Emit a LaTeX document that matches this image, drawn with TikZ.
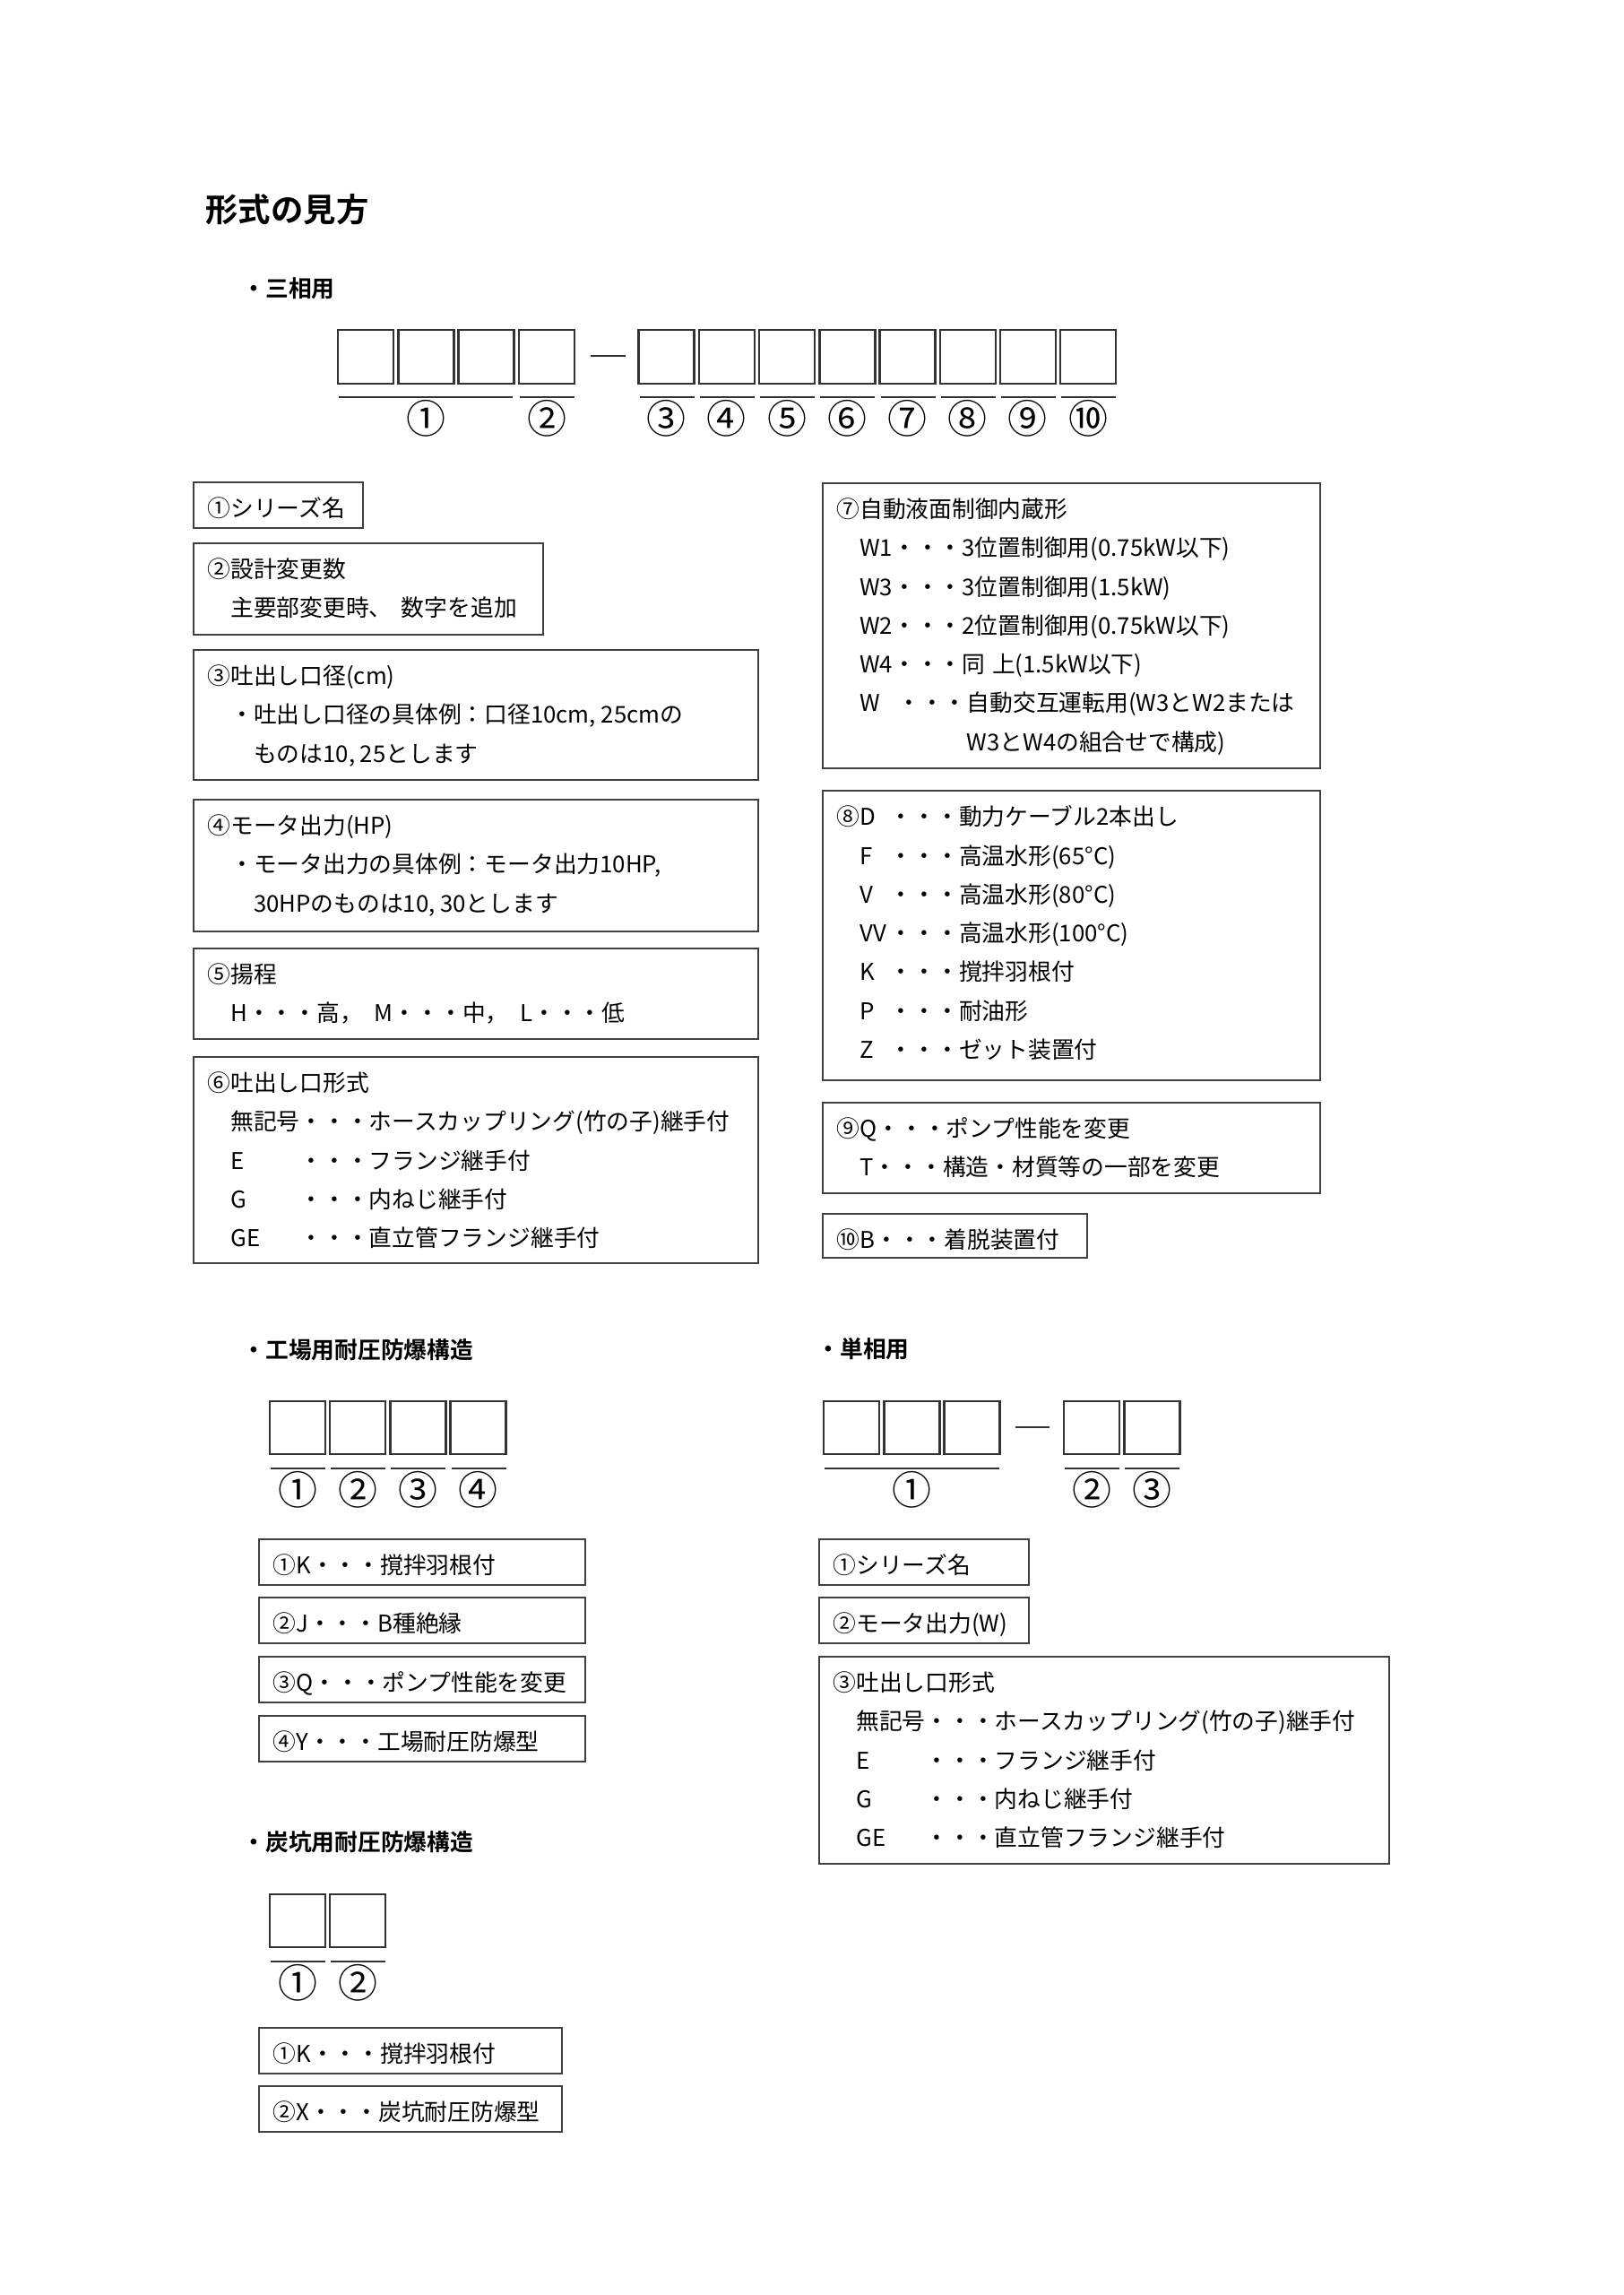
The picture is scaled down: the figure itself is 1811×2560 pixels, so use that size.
\documentclass[tikz,border=0pt]{standalone}
\usepackage{fontspec}
\setmainfont{Noto Sans CJK JP}[BoldFont={Noto Sans CJK JP Bold}]
\begin{document}
\begin{tikzpicture}[x=0.11596mm,y=-0.11596mm,
  frame/.style={draw=black!75,line width=0.6pt},
  cell/.style={draw=black!80,line width=0.8pt},
  txt/.style={anchor=north west,inner sep=0pt,align=left,text=black,font=\fontsize{8.5}{14.29}\selectfont},
  head/.style={anchor=west,inner sep=0pt,font=\fontsize{8.5}{10}\selectfont\bfseries},
  num/.style={inner sep=0pt,text=black,font=\fontsize{14.5}{16}\selectfont}]
  \useasboundingbox (0,0) rectangle (1811,2560);
  \fill[white] (0,0) rectangle (1811,2560);
  % Title
  \node[anchor=west,inner sep=0pt,font=\fontsize{12}{14}\selectfont\bfseries] (title) at (229,234) {形式の見方};
  % Three-phase code
  \node[head] (h3) at (270,322) {・三相用};
  \foreach \x in {377,444.3,511.6,578.9}
    \draw[cell] (\x,368) rectangle ++(62,60);
  \draw[cell] (659,397) -- (698,397);
  \draw[cell] (378,443) -- (572,443);
  \draw[cell] (580,443) -- (641,443);
  \node[num] (p1) at (475,467) {①};
  \node[num] (p2) at (610.5,467) {②};
  \foreach \x/\c [count=\i from 3] in {712.7/③,779.9/④,847.1/⑤,914.3/⑥,981.5/⑦,1048.7/⑧,1115.9/⑨,1183.1/⑩} {
    \draw[cell] (\x,368) rectangle ++(62,60);
    \draw[cell] (\x+1,443) -- ++(61,0);
    \node[num] (p\i) at (\x+31,467) {\c};
  }
  % Left column
  \draw[frame] (216,538) rectangle (405,589);
  \node[txt] (s1) at (231,554) {①シリーズ名};
  \draw[frame] (216,606) rectangle (606,708);
  \node[txt] (s2) at (231,622) {②設計変更数\\\hspace*{1em}主要部変更時、\hspace{0.4em}数字を追加};
  \draw[frame] (216,725) rectangle (846,870);
  \node[txt] (s3) at (231,741) {③吐出し口径(cm)\\\hspace*{1em}・吐出し口径の具体例：口径10cm, 25cmの\\\hspace*{2em}ものは10, 25とします};
  \draw[frame] (216,892) rectangle (846,1039);
  \node[txt] (s4) at (231,908) {④モータ出力(HP)\\\hspace*{1em}・モータ出力の具体例：モータ出力10HP,\\\hspace*{2em}30HPのものは10, 30とします};
  \draw[frame] (216,1058) rectangle (846,1159);
  \node[txt] (s5) at (231,1074) {⑤揚程\\\hspace*{1em}H・・・高，\hspace{0.5em}M・・・中，\hspace{0.5em}L・・・低};
  \draw[frame] (216,1179) rectangle (846,1409);
  \node[txt] (s6) at (231,1195) {⑥吐出し口形式\\
    \hspace*{1em}無記号・・・ホースカップリング(竹の子)継手付\\
    \hspace*{1em}\makebox[3em][l]{E}・・・フランジ継手付\\
    \hspace*{1em}\makebox[3em][l]{G}・・・内ねじ継手付\\
    \hspace*{1em}\makebox[3em][l]{GE}・・・直立管フランジ継手付};
  % Right column
  \draw[frame] (918,539) rectangle (1473,857);
  \node[txt] (s7) at (933,555) {⑦自動液面制御内蔵形\\
    \hspace*{1em}W1・・・3位置制御用(0.75kW以下)\\
    \hspace*{1em}W3・・・3位置制御用(1.5kW)\\
    \hspace*{1em}W2・・・2位置制御用(0.75kW以下)\\
    \hspace*{1em}W4・・・同\hspace{0.3em}上(1.5kW以下)\\
    \hspace*{1em}\rlap{W}\phantom{W1}\hspace{0.2em}・・・自動交互運転用(W3とW2または\\
    \hspace*{1em}\phantom{W1}\hspace{0.2em}\phantom{・・・}W3とW4の組合せで構成)};
  \draw[frame] (918,882) rectangle (1473,1205);
  \node[txt] (s8) at (933,898) {⑧\makebox[1.3em][l]{D}・・・動力ケーブル2本出し\\
    \hspace*{1em}\makebox[1.3em][l]{F}・・・高温水形(65°C)\\
    \hspace*{1em}\makebox[1.3em][l]{V}・・・高温水形(80°C)\\
    \hspace*{1em}\makebox[1.3em][l]{VV}・・・高温水形(100°C)\\
    \hspace*{1em}\makebox[1.3em][l]{K}・・・撹拌羽根付\\
    \hspace*{1em}\makebox[1.3em][l]{P}・・・耐油形\\
    \hspace*{1em}\makebox[1.3em][l]{Z}・・・ゼット装置付};
  \draw[frame] (918,1230) rectangle (1473,1331);
  \node[txt] (s9) at (933,1246) {⑨Q・・・ポンプ性能を変更\\\hspace*{1em}T・・・構造・材質等の一部を変更};
  \draw[frame] (918,1354) rectangle (1213,1403);
  \node[txt] (s10) at (933,1370) {⑩B・・・着脱装置付};
  % Factory flameproof
  \node[head] (hf) at (270,1506) {・工場用耐圧防爆構造};
  \foreach \x/\c [count=\i] in {301/①,368.2/②,435.4/③,502.6/④} {
    \draw[cell] (\x,1563) rectangle ++(62,59);
    \draw[cell] (\x+1,1638) -- ++(61,0);
    \node[num] (f\i) at (\x+31,1662) {\c};
  }
  \draw[frame] (289,1717) rectangle (653,1768);
  \node[txt] (e1) at (304,1733) {①K・・・撹拌羽根付};
  \draw[frame] (289,1782) rectangle (653,1833);
  \node[txt] (e2) at (304,1798) {②J・・・B種絶縁};
  \draw[frame] (289,1848) rectangle (653,1899);
  \node[txt] (e3) at (304,1864) {③Q・・・ポンプ性能を変更};
  \draw[frame] (289,1914) rectangle (653,1965);
  \node[txt] (e4) at (304,1930) {④Y・・・工場耐圧防爆型};
  % Single-phase
  \node[head] (h1) at (911,1505) {・単相用};
  \foreach \x in {919,986.3,1053.6,1187,1254.3}
    \draw[cell] (\x,1563) rectangle ++(62,59);
  \draw[cell] (1133,1592) -- (1171,1592);
  \draw[cell] (920,1638) -- (1115,1638);
  \draw[cell] (1188,1638) -- (1249,1638);
  \draw[cell] (1255,1638) -- (1316,1638);
  \node[num] (g1) at (1017,1662) {①};
  \node[num] (g2) at (1218,1662) {②};
  \node[num] (g3) at (1285,1662) {③};
  \draw[frame] (914,1717) rectangle (1148,1768);
  \node[txt] (d1) at (929,1733) {①シリーズ名};
  \draw[frame] (914,1782) rectangle (1148,1833);
  \node[txt] (d2) at (929,1798) {②モータ出力(W)};
  \draw[frame] (914,1848) rectangle (1550,2079);
  \node[txt] (d3) at (929,1864) {③吐出し口形式\\
    \hspace*{1em}無記号・・・ホースカップリング(竹の子)継手付\\
    \hspace*{1em}\makebox[3em][l]{E}・・・フランジ継手付\\
    \hspace*{1em}\makebox[3em][l]{G}・・・内ねじ継手付\\
    \hspace*{1em}\makebox[3em][l]{GE}・・・直立管フランジ継手付};
  % Coal-mine flameproof
  \node[head] (hc) at (270,2055) {・炭坑用耐圧防爆構造};
  \foreach \x/\c [count=\i] in {301/①,368.2/②} {
    \draw[cell] (\x,2113) rectangle ++(62,59);
    \draw[cell] (\x+1,2188) -- ++(61,0);
    \node[num] (c\i) at (\x+31,2212) {\c};
  }
  \draw[frame] (289,2262) rectangle (627,2313);
  \node[txt] (k1) at (304,2278) {①K・・・撹拌羽根付};
  \draw[frame] (289,2327) rectangle (627,2378);
  \node[txt] (k2) at (304,2343) {②X・・・炭坑耐圧防爆型};
\end{tikzpicture}
\end{document}
